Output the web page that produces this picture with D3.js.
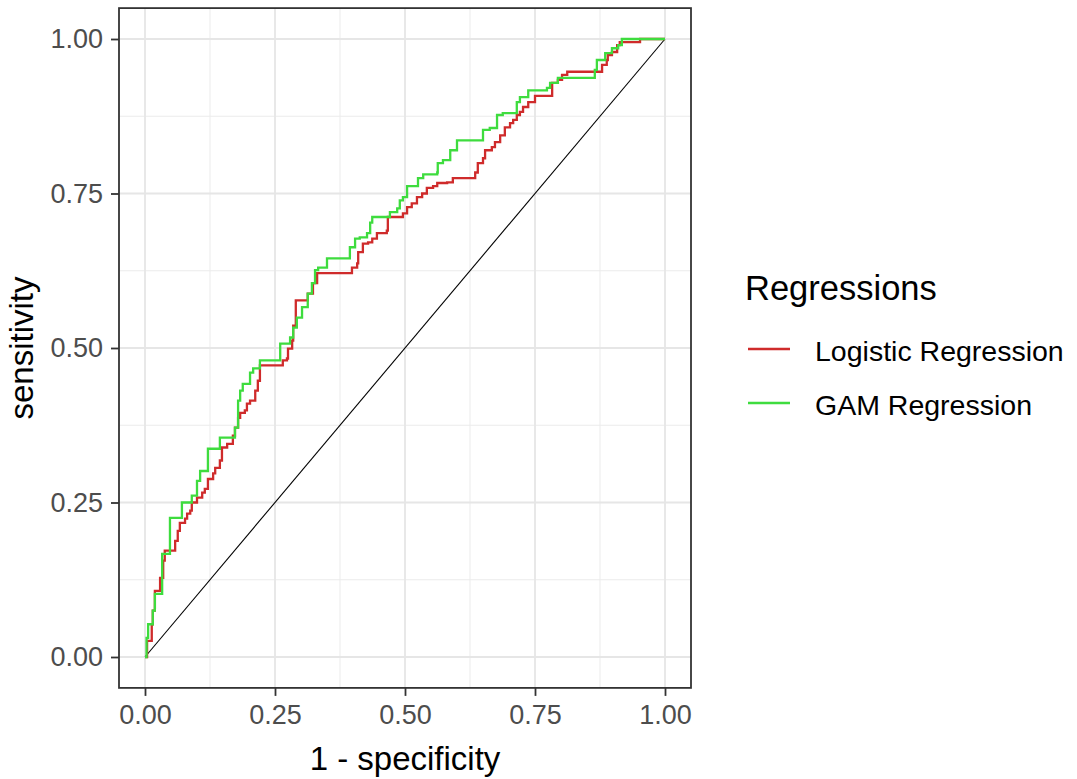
<!DOCTYPE html>
<html>
<head>
<meta charset="utf-8">
<script src="https://cdn.jsdelivr.net/npm/d3@7"></script>
<style>
  body { margin: 0; background: #fff; }
  text { font-family: "Liberation Sans", Arial, sans-serif; }
</style>
</head>
<body>
<svg id="chart" width="1077" height="779"></svg>
<script>
const width = 1077, height = 779;
const svg = d3.select("#chart");

// ROC points: 1 - specificity, sensitivity
const logisticFpr = [0, 0.004, 0.004, 0.013, 0.015, 0.019, 0.029, 0.029, 0.035, 0.038, 0.054, 0.058, 0.063, 0.067, 0.077, 0.081, 0.087, 0.090, 0.100, 0.110, 0.115, 0.121, 0.131, 0.135, 0.144, 0.148, 0.158, 0.169, 0.173, 0.179, 0.183, 0.192, 0.196, 0.202, 0.212, 0.217, 0.221, 0.265, 0.265, 0.273, 0.275, 0.283, 0.285, 0.290, 0.312, 0.313, 0.323, 0.331, 0.394, 0.398, 0.408, 0.410, 0.419, 0.429, 0.437, 0.446, 0.465, 0.467, 0.494, 0.496, 0.504, 0.513, 0.523, 0.533, 0.542, 0.554, 0.562, 0.581, 0.592, 0.631, 0.635, 0.640, 0.650, 0.654, 0.667, 0.673, 0.683, 0.692, 0.702, 0.708, 0.715, 0.721, 0.727, 0.737, 0.750, 0.779, 0.783, 0.794, 0.802, 0.812, 0.875, 0.879, 0.888, 0.890, 0.898, 0.908, 0.913, 0.952, 0.952, 1];
const logisticTpr = [0, 0.013, 0.026, 0.053, 0.075, 0.107, 0.112, 0.128, 0.156, 0.172, 0.172, 0.188, 0.204, 0.217, 0.224, 0.232, 0.237, 0.250, 0.258, 0.266, 0.272, 0.288, 0.297, 0.306, 0.318, 0.339, 0.345, 0.358, 0.371, 0.387, 0.395, 0.399, 0.410, 0.415, 0.431, 0.447, 0.472, 0.472, 0.480, 0.483, 0.499, 0.512, 0.536, 0.577, 0.577, 0.588, 0.605, 0.621, 0.621, 0.630, 0.637, 0.655, 0.669, 0.671, 0.677, 0.686, 0.690, 0.712, 0.712, 0.718, 0.728, 0.734, 0.744, 0.750, 0.759, 0.762, 0.767, 0.768, 0.775, 0.775, 0.784, 0.799, 0.807, 0.820, 0.825, 0.833, 0.844, 0.857, 0.864, 0.869, 0.877, 0.882, 0.890, 0.898, 0.908, 0.908, 0.929, 0.934, 0.942, 0.947, 0.947, 0.958, 0.966, 0.974, 0.979, 0.990, 0.995, 0.995, 1, 1];

const gamFpr = [0, 0.003, 0.003, 0.006, 0.015, 0.015, 0.019, 0.033, 0.033, 0.048, 0.071, 0.071, 0.090, 0.090, 0.100, 0.106, 0.106, 0.121, 0.144, 0.144, 0.163, 0.173, 0.179, 0.183, 0.188, 0.202, 0.208, 0.221, 0.254, 0.260, 0.279, 0.285, 0.292, 0.302, 0.313, 0.321, 0.327, 0.333, 0.350, 0.390, 0.394, 0.404, 0.413, 0.427, 0.433, 0.437, 0.467, 0.471, 0.485, 0.490, 0.496, 0.504, 0.523, 0.525, 0.535, 0.562, 0.563, 0.573, 0.587, 0.600, 0.644, 0.650, 0.663, 0.677, 0.688, 0.708, 0.715, 0.721, 0.737, 0.773, 0.779, 0.794, 0.856, 0.865, 0.869, 0.885, 0.898, 0.910, 0.917, 1];
const gamTpr = [0, 0.005, 0.031, 0.053, 0.063, 0.075, 0.102, 0.102, 0.167, 0.225, 0.225, 0.250, 0.250, 0.261, 0.285, 0.285, 0.301, 0.337, 0.337, 0.355, 0.355, 0.371, 0.415, 0.431, 0.442, 0.460, 0.467, 0.480, 0.480, 0.507, 0.517, 0.533, 0.549, 0.566, 0.588, 0.605, 0.626, 0.630, 0.645, 0.645, 0.663, 0.677, 0.679, 0.686, 0.703, 0.712, 0.712, 0.720, 0.726, 0.739, 0.744, 0.762, 0.762, 0.775, 0.781, 0.784, 0.799, 0.804, 0.820, 0.836, 0.836, 0.853, 0.856, 0.877, 0.880, 0.880, 0.898, 0.906, 0.917, 0.921, 0.929, 0.937, 0.937, 0.950, 0.966, 0.977, 0.985, 0.990, 1, 1];

const seriesNames = ["Logistic Regression", "GAM Regression"];
const seriesColors = ["#cf2b2b", "#3edc3e"];
const ticks = [0, 0.25, 0.5, 0.75, 1];
const minorTicks = [0.125, 0.375, 0.625, 0.875];

const series = [
    { name: seriesNames[0], color: seriesColors[0], pts: logisticFpr.map((f, i) => [f, logisticTpr[i]]) },
    { name: seriesNames[1], color: seriesColors[1], pts: gamFpr.map((f, i) => [f, gamTpr[i]]) }
];

const x = d3.scaleLinear().domain([0, 1]).range([145, 665]);
const y = d3.scaleLinear().domain([0, 1]).range([657, 39]);

const px0 = x(-0.05), px1 = x(1.05), py0 = y(1.05), py1 = y(-0.05);

// panel background
svg.append("rect")
    .attr("x", px0).attr("y", py0)
    .attr("width", px1 - px0).attr("height", py1 - py0)
    .attr("fill", "white");

// minor grid
minorTicks.forEach(t => {
    svg.append("line").attr("x1", x(t)).attr("x2", x(t)).attr("y1", py0).attr("y2", py1)
        .attr("stroke", "#ebebeb").attr("stroke-width", 1);
    svg.append("line").attr("x1", px0).attr("x2", px1).attr("y1", y(t)).attr("y2", y(t))
        .attr("stroke", "#ebebeb").attr("stroke-width", 1);
});
// major grid
ticks.forEach(t => {
    svg.append("line").attr("x1", x(t)).attr("x2", x(t)).attr("y1", py0).attr("y2", py1)
        .attr("stroke", "#e6e6e6").attr("stroke-width", 1.8);
    svg.append("line").attr("x1", px0).attr("x2", px1).attr("y1", y(t)).attr("y2", y(t))
        .attr("stroke", "#e6e6e6").attr("stroke-width", 1.8);
});

// diagonal
svg.append("line")
    .attr("x1", x(0)).attr("y1", y(0)).attr("x2", x(1)).attr("y2", y(1))
    .attr("stroke", "black").attr("stroke-width", 1.1);

const line = d3.line()
    .x(d => x(d[0]))
    .y(d => y(d[1]))
    .curve(d3.curveStepAfter);

series.forEach(s => {
    svg.append("path")
        .datum(s.pts)
        .attr("d", line)
        .attr("fill", "none")
        .attr("stroke", s.color)
        .attr("stroke-width", 2.3);
});

// panel border
svg.append("rect")
    .attr("x", px0).attr("y", py0)
    .attr("width", px1 - px0).attr("height", py1 - py0)
    .attr("fill", "none").attr("stroke", "#333333").attr("stroke-width", 1.8);

// axes
const fmt = d3.format(".2f");
const xAxis = svg.append("g")
    .attr("transform", `translate(0,${py1})`)
    .call(d3.axisBottom(x).tickValues(ticks).tickFormat(fmt).tickSize(8).tickPadding(9));
const yAxis = svg.append("g")
    .attr("transform", `translate(${px0},0)`)
    .call(d3.axisLeft(y).tickValues(ticks).tickFormat(fmt).tickSize(8).tickPadding(8));

[xAxis, yAxis].forEach(a => {
    a.select(".domain").remove();
    a.selectAll(".tick line").attr("stroke", "#333333").attr("stroke-width", 1.8);
    a.selectAll(".tick text")
        .attr("fill", "#4d4d4d")
        .style("font-size", "27px")
        .style("font-family", "'Liberation Sans', Arial, sans-serif");
});

// axis titles
svg.append("text")
    .attr("x", (px0 + px1) / 2).attr("y", 770)
    .attr("text-anchor", "middle")
    .style("font-size", "33px")
    .text("1 - specificity");

svg.append("text")
    .attr("transform", `translate(33,${(py0 + py1) / 2}) rotate(-90)`)
    .attr("text-anchor", "middle")
    .style("font-size", "33px")
    .text("sensitivity");

// legend
const legend = svg.append("g").attr("transform", "translate(745,0)");
legend.append("text")
    .attr("x", 0).attr("y", 300)
    .style("font-size", "34.5px")
    .text("Regressions");

series.forEach((s, i) => {
    const ly = 349 + i * 54;
    legend.append("line")
        .attr("x1", 3).attr("x2", 45).attr("y1", ly).attr("y2", ly)
        .attr("stroke", s.color).attr("stroke-width", 2.3);
    legend.append("text")
        .attr("x", 70).attr("y", ly + 2)
        .attr("dy", "0.35em")
        .style("font-size", "28.5px")
        .text(s.name);
});
</script>
</body>
</html>
